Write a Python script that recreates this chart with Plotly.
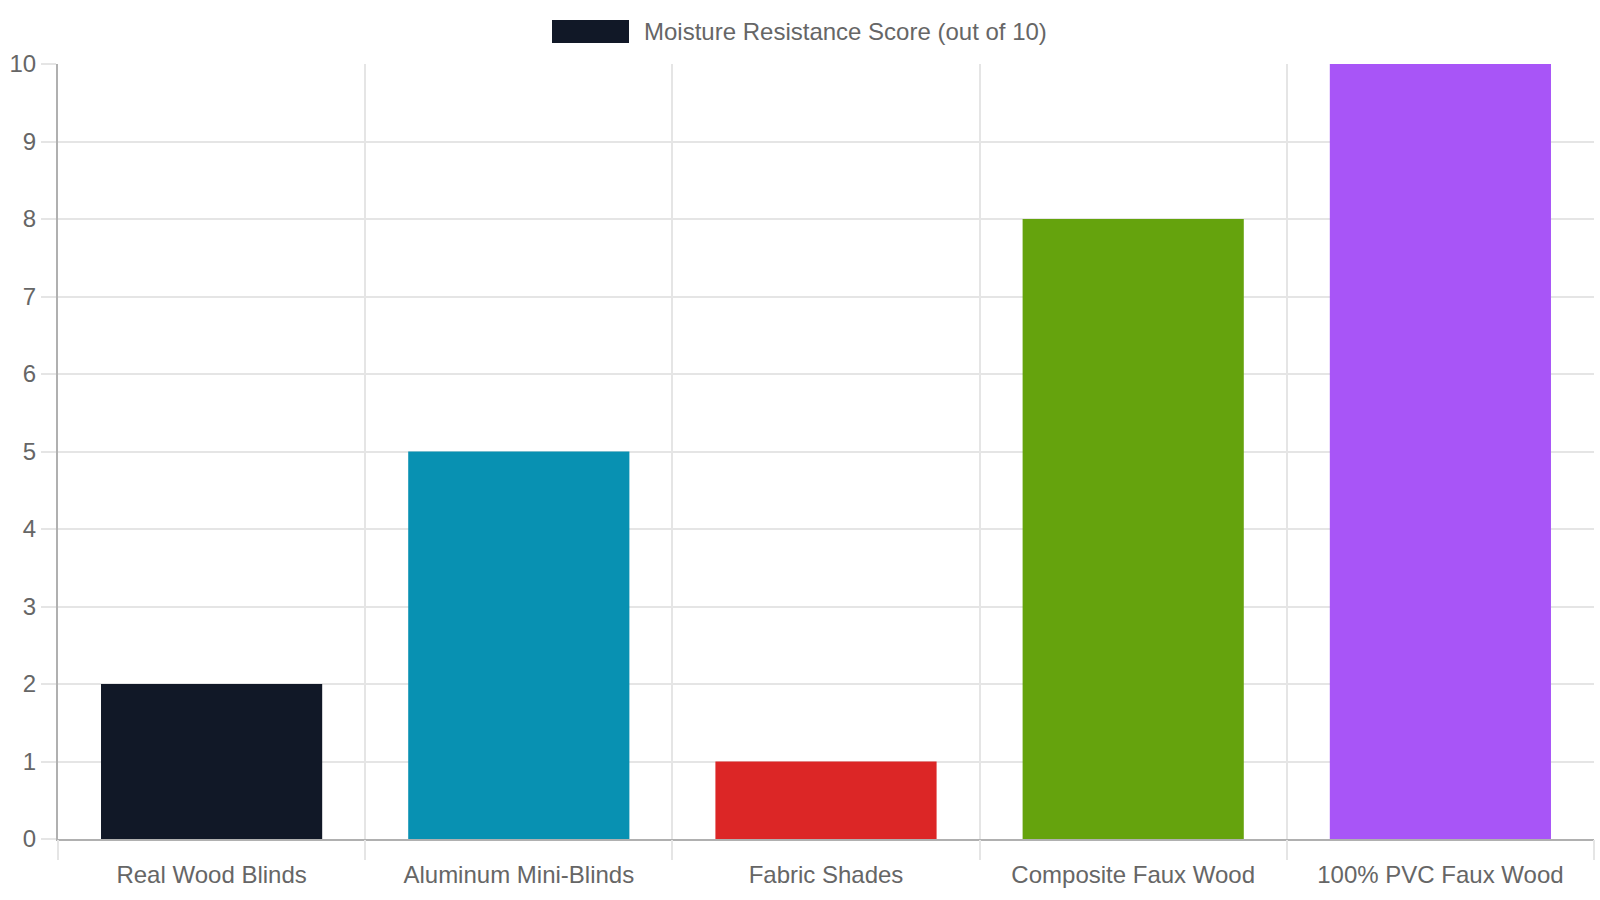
import plotly.graph_objects as go

categories = ["Real Wood Blinds", "Aluminum Mini-Blinds", "Fabric Shades",
              "Composite Faux Wood", "100% PVC Faux Wood"]
scores = [2, 5, 1, 8, 10]
colors = ["#111827", "#0891b2", "#dc2626", "#65a30d", "#a855f7"]
series_name = "Moisture Resistance Score (out of 10)"
y_ticks = list(range(0, 11))

W, H = 1600, 900
ml, mr, mt, mb = 58, 6, 64, 61
pw, ph = W - ml - mr, H - mt - mb

FONT = "Liberation Sans, Arial, sans-serif"
GRID = "#e5e5e5"
AXIS = "#b0b0b0"
TXT = "#666666"

fig = go.Figure()
fig.add_trace(go.Bar(x=categories, y=scores, marker=dict(color=colors, line=dict(width=0)),
                     width=0.72, showlegend=False, name=series_name))
# helper axis for category-boundary gridlines
n = len(categories)
bounds = [i - 0.5 for i in range(n + 1)]
fig.add_trace(go.Scatter(x=[bounds[0], bounds[-1]], y=[None, None], xaxis="x2",
                         mode="lines", showlegend=False, hoverinfo="skip"))

fig.update_layout(
    width=W, height=H,
    margin=dict(l=ml, r=mr, t=mt, b=mb, autoexpand=False),
    paper_bgcolor="white", plot_bgcolor="white",
    font=dict(family=FONT, size=24, color=TXT),
    showlegend=False,
    bargap=0.28,
    xaxis=dict(type="category", range=[-0.5, n - 0.5], showgrid=False,
               showline=True, linecolor=AXIS, linewidth=2, automargin=False,
               ticks="outside", ticklen=13, tickcolor="rgba(0,0,0,0)",
               tickfont=dict(size=24, color=TXT), zeroline=False),
    xaxis2=dict(overlaying="x", anchor="y", side="bottom", range=[-0.5, n - 0.5],
                tickmode="array", tickvals=bounds, showticklabels=False, automargin=False,
                showgrid=True, gridcolor=GRID, gridwidth=2,
                ticks="outside", ticklen=20, tickcolor=GRID, tickwidth=2,
                zeroline=False, showline=False),
    yaxis=dict(range=[0, 10], tickmode="array", tickvals=y_ticks, automargin=False,
               showgrid=True, gridcolor=GRID, gridwidth=2,
               ticks="outside", ticklen=15, tickcolor=GRID, tickwidth=2,
               showline=True, linecolor=AXIS, linewidth=2, zeroline=False,
               tickfont=dict(size=24, color=TXT)),
)

# Chart.js-style legend at top
bx0, bx1, by0, by1 = 552, 629, 20, 43
def px(x): return (x - ml) / pw
def py(y): return (H - mb - y) / ph
fig.add_shape(type="rect", xref="paper", yref="paper",
              x0=px(bx0), x1=px(bx1), y0=py(by1), y1=py(by0),
              fillcolor=colors[0], line=dict(width=0))
fig.add_annotation(xref="paper", yref="paper", x=px(642), y=py(31.5),
                   xanchor="left", yanchor="middle", showarrow=False,
                   text=series_name, font=dict(size=24, color=TXT))

fig.write_html("out.html")
